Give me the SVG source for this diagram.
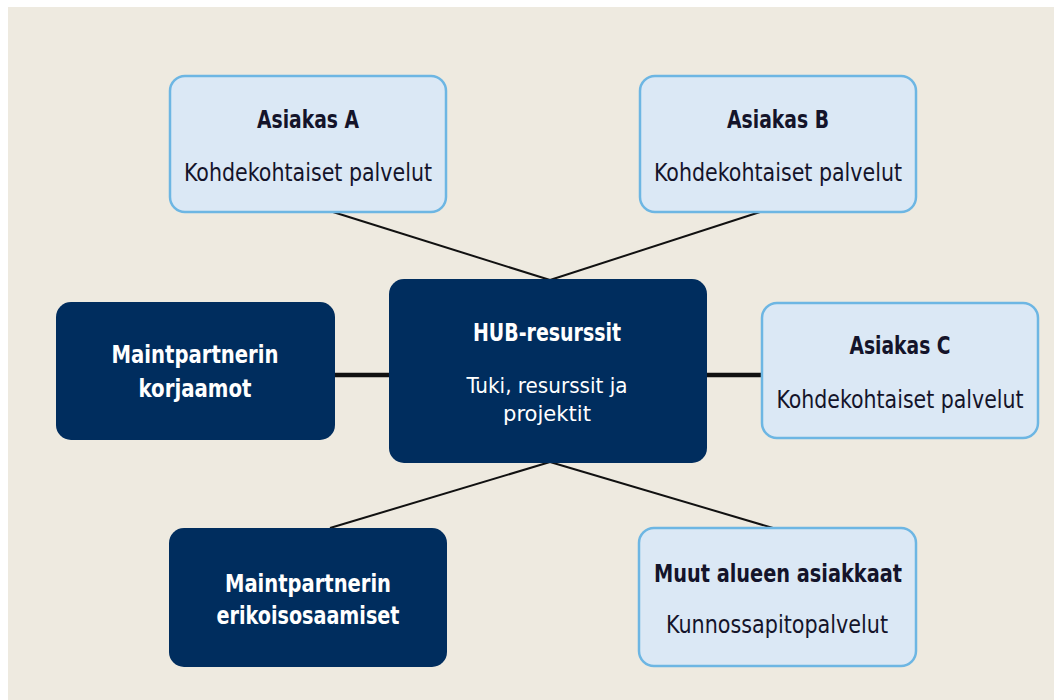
<svg xmlns="http://www.w3.org/2000/svg" width="1054" height="700" viewBox="0 0 1054 700">
  <style>
    .bg { fill: #eeeae0; }
    .light { fill: #dbe8f5; stroke: #6db6e3; stroke-width: 2.5; }
    .dark { fill: #002d5e; }
    .link { stroke: #111111; stroke-width: 2; fill: none; }
    .link-thick { stroke: #111111; stroke-width: 4.5; fill: none; }
    text { font-family: "Liberation Sans Narrow", "DejaVu Sans Condensed", "Liberation Sans", sans-serif; font-size: 25px; text-anchor: middle; }
    .title { font-weight: bold; }
    .small { font-size: 22px; }
    .dk { fill: #14142a; }
    .wt { fill: #ffffff; }
  </style>

  <rect class="bg" x="8" y="7" width="1046" height="693"/>

  <!-- connectors -->
  <g id="connectors">
    <line class="link" x1="333" y1="212" x2="550" y2="280"/>
    <line class="link" x1="760" y1="212" x2="550" y2="280"/>
    <line class="link-thick" x1="335" y1="375" x2="390" y2="375"/>
    <line class="link-thick" x1="706" y1="375" x2="762" y2="375"/>
    <line class="link" x1="550" y1="462" x2="330" y2="528"/>
    <line class="link" x1="550" y1="462" x2="773" y2="528"/>
  </g>

  <g id="asiakas-a">
    <rect class="light" x="170" y="76" width="276" height="136" rx="15"/>
    <text class="title dk" x="308" y="128" textLength="102" lengthAdjust="spacingAndGlyphs">Asiakas A</text>
    <text class="dk" x="308" y="181" textLength="248" lengthAdjust="spacingAndGlyphs">Kohdekohtaiset palvelut</text>
  </g>

  <g id="asiakas-b">
    <rect class="light" x="640" y="76" width="276" height="136" rx="15"/>
    <text class="title dk" x="778" y="128" textLength="102" lengthAdjust="spacingAndGlyphs">Asiakas B</text>
    <text class="dk" x="778" y="181" textLength="248" lengthAdjust="spacingAndGlyphs">Kohdekohtaiset palvelut</text>
  </g>

  <g id="hub">
    <rect class="dark" x="389" y="279" width="318" height="184" rx="15"/>
    <text class="title wt" x="547" y="341" textLength="148" lengthAdjust="spacingAndGlyphs">HUB-resurssit</text>
    <text class="small wt" x="547" y="393" textLength="161" lengthAdjust="spacingAndGlyphs">Tuki, resurssit ja</text>
    <text class="small wt" x="547" y="421" textLength="88" lengthAdjust="spacingAndGlyphs">projektit</text>
  </g>

  <g id="korjaamot">
    <rect class="dark" x="56" y="302" width="279" height="138" rx="15"/>
    <text class="title wt" x="195" y="363" textLength="167" lengthAdjust="spacingAndGlyphs">Maintpartnerin</text>
    <text class="title wt" x="195" y="397" textLength="113" lengthAdjust="spacingAndGlyphs">korjaamot</text>
  </g>

  <g id="asiakas-c">
    <rect class="light" x="762" y="303" width="276" height="135" rx="15"/>
    <text class="title dk" x="900" y="354" textLength="101" lengthAdjust="spacingAndGlyphs">Asiakas C</text>
    <text class="dk" x="900" y="408" textLength="247" lengthAdjust="spacingAndGlyphs">Kohdekohtaiset palvelut</text>
  </g>

  <g id="erikoisosaamiset">
    <rect class="dark" x="169" y="528" width="278" height="139" rx="15"/>
    <text class="title wt" x="308" y="592" textLength="166" lengthAdjust="spacingAndGlyphs">Maintpartnerin</text>
    <text class="title wt" x="308" y="624" textLength="183" lengthAdjust="spacingAndGlyphs">erikoisosaamiset</text>
  </g>

  <g id="muut-asiakkaat">
    <rect class="light" x="639" y="528" width="277" height="138" rx="15"/>
    <text class="title dk" x="778" y="582" textLength="248" lengthAdjust="spacingAndGlyphs">Muut alueen asiakkaat</text>
    <text class="dk" x="777" y="633" textLength="222" lengthAdjust="spacingAndGlyphs">Kunnossapitopalvelut</text>
  </g>
</svg>
